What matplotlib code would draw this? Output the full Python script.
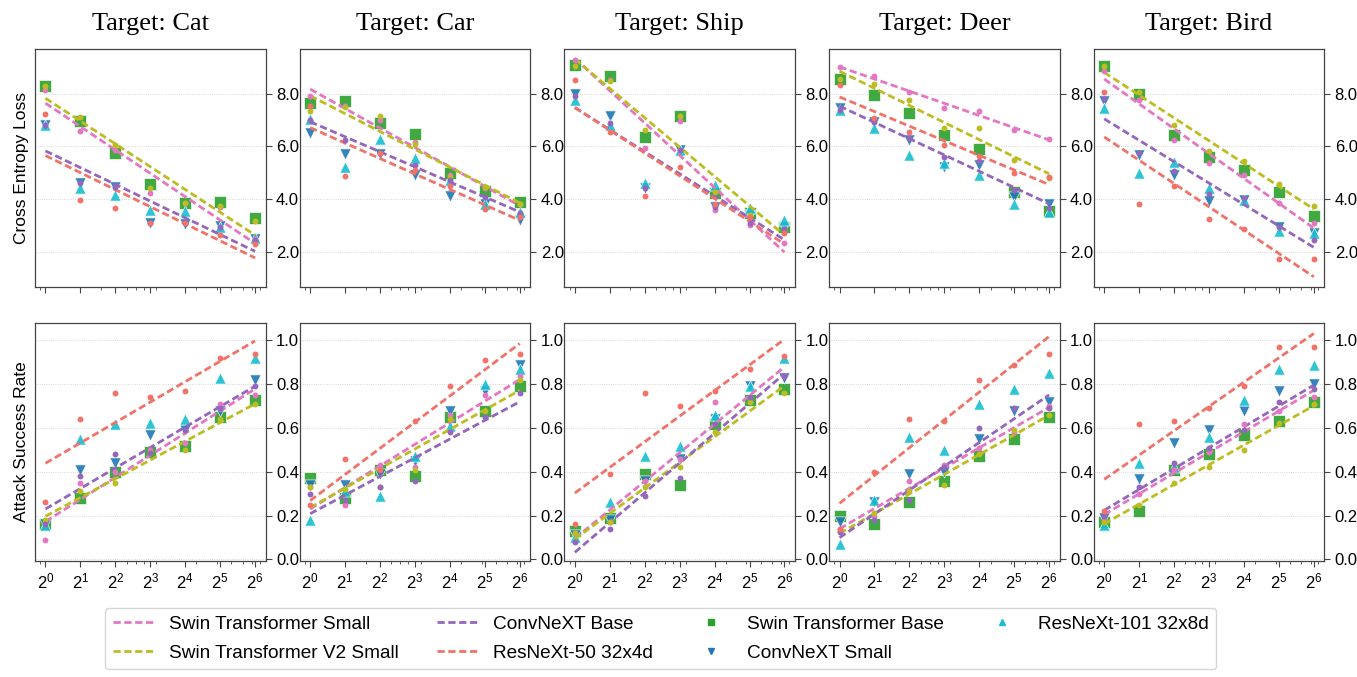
import numpy as np
import matplotlib
matplotlib.use("Agg")
import matplotlib.pyplot as plt
from matplotlib.ticker import NullFormatter, FormatStrFormatter, FixedLocator
from matplotlib.lines import Line2D

plt.rcParams['font.family'] = ['Liberation Sans', 'DejaVu Sans']
plt.rcParams['mathtext.fontset'] = 'custom'
plt.rcParams['mathtext.rm'] = 'Liberation Sans'
plt.rcParams['mathtext.it'] = 'Liberation Sans:italic'

# numero de muestras (eje x)
samples = [1, 2, 4, 8, 16, 32, 64]
targets = ['Cat', 'Car', 'Ship', 'Deer', 'Bird']

# Cross entropy loss, una fila por target
ce_swin_s = [[8.15, 6.59, 5.87, 4.22, 3.83, 3.70, 2.46],
             [7.90, 7.55, 7.00, 6.15, 4.90, 4.40, 3.80],
             [9.30, 8.53, 5.93, 6.97, 3.58, 3.00, 2.31],
             [9.00, 8.66, 8.06, 7.47, 7.35, 6.63, 6.27],
             [8.85, 7.75, 6.25, 5.38, 4.91, 3.86, 3.07]]
ce_swinv2_s = [[8.28, 7.10, 6.06, 4.40, 3.83, 3.73, 3.18],
               [7.36, 7.49, 7.14, 6.08, 4.85, 4.47, 3.80],
               [9.04, 8.50, 6.63, 7.14, 4.28, 3.39, 2.81],
               [8.56, 8.38, 7.75, 6.69, 6.69, 5.48, 4.78],
               [9.04, 8.05, 6.82, 5.83, 5.46, 4.56, 3.73]]
ce_convnext_b = [[6.80, 4.60, 4.47, 3.09, 3.09, 2.94, 2.43],
                 [7.00, 6.25, 5.74, 5.29, 4.72, 4.08, 3.45],
                 [7.90, 6.90, 4.40, 5.85, 3.70, 3.10, 2.85],
                 [7.40, 6.94, 6.31, 5.61, 5.46, 4.34, 3.64],
                 [7.81, 5.74, 5.08, 4.19, 4.02, 2.94, 2.43]]
ce_resnext50 = [[7.24, 3.97, 3.65, 3.08, 3.08, 2.62, 2.28],
                [7.52, 4.87, 5.75, 5.10, 4.50, 3.60, 3.30],
                [8.53, 6.53, 4.11, 5.20, 3.79, 3.32, 2.69],
                [8.34, 7.07, 6.54, 6.06, 5.65, 4.97, 4.85],
                [8.06, 3.81, 4.50, 3.22, 2.84, 1.73, 1.73]]
ce_swin_b = [[8.30, 6.95, 5.74, 4.57, 3.86, 3.88, 3.26],
             [7.64, 7.71, 6.88, 6.46, 4.97, 4.30, 3.87],
             [9.10, 8.66, 6.37, 7.14, 4.21, 3.45, 2.94],
             [8.56, 7.96, 7.26, 6.44, 5.90, 4.28, 3.55],
             [9.07, 8.00, 6.44, 5.61, 5.10, 4.28, 3.35]]
ce_convnext_s = [[6.80, 4.62, 4.47, 3.07, 3.03, 2.97, 2.47],
                 [6.50, 5.70, 5.70, 4.91, 4.11, 3.80, 3.20],
                 [7.99, 7.15, 4.40, 5.86, 3.70, 3.39, 2.94],
                 [7.45, 6.91, 6.25, 5.23, 5.29, 4.08, 3.81],
                 [7.71, 5.67, 4.91, 3.93, 3.96, 2.94, 2.69]]
ce_resnext101 = [[6.80, 4.43, 4.14, 3.58, 3.53, 2.94, 2.50],
                 [7.05, 5.20, 6.28, 5.55, 4.72, 3.80, 3.49],
                 [7.77, 6.80, 4.62, 5.86, 4.53, 3.64, 3.20],
                 [7.39, 6.69, 5.67, 5.36, 4.91, 3.80, 3.51],
                 [7.45, 5.00, 5.42, 4.43, 3.96, 2.78, 2.69]]

# Attack success rate
asr_swin_s = [[0.09, 0.35, 0.40, 0.50, 0.53, 0.71, 0.75],
              [0.33, 0.25, 0.43, 0.42, 0.66, 0.75, 0.84],
              [0.12, 0.17, 0.36, 0.46, 0.72, 0.74, 0.84],
              [0.14, 0.20, 0.36, 0.43, 0.51, 0.58, 0.70],
              [0.18, 0.30, 0.41, 0.49, 0.62, 0.68, 0.74]]
asr_swinv2_s = [[0.18, 0.31, 0.35, 0.485, 0.50, 0.64, 0.71],
                [0.33, 0.32, 0.33, 0.41, 0.64, 0.68, 0.82],
                [0.12, 0.17, 0.33, 0.42, 0.58, 0.72, 0.76],
                [0.13, 0.21, 0.31, 0.34, 0.48, 0.59, 0.66],
                [0.17, 0.25, 0.35, 0.42, 0.50, 0.625, 0.71]]
asr_convnext_b = [[0.16, 0.38, 0.48, 0.485, 0.59, 0.69, 0.79],
                  [0.30, 0.27, 0.33, 0.36, 0.58, 0.65, 0.76],
                  [0.08, 0.14, 0.29, 0.37, 0.62, 0.74, 0.84],
                  [0.125, 0.18, 0.27, 0.42, 0.60, 0.69, 0.69],
                  [0.20, 0.33, 0.44, 0.51, 0.59, 0.72, 0.78]]
asr_resnext50 = [[0.26, 0.64, 0.76, 0.74, 0.77, 0.92, 0.94],
                 [0.25, 0.46, 0.41, 0.63, 0.79, 0.91, 0.94],
                 [0.16, 0.39, 0.76, 0.70, 0.77, 0.87, 0.93],
                 [0.14, 0.40, 0.64, 0.63, 0.82, 0.89, 0.94],
                 [0.22, 0.62, 0.63, 0.69, 0.79, 0.97, 0.97]]
asr_swin_b = [[0.16, 0.28, 0.40, 0.49, 0.52, 0.65, 0.73],
              [0.37, 0.28, 0.41, 0.38, 0.65, 0.68, 0.79],
              [0.13, 0.19, 0.39, 0.34, 0.62, 0.73, 0.78],
              [0.20, 0.16, 0.26, 0.36, 0.47, 0.55, 0.65],
              [0.17, 0.22, 0.41, 0.48, 0.57, 0.63, 0.72]]
asr_convnext_s = [[0.16, 0.41, 0.44, 0.57, 0.59, 0.68, 0.82],
                  [0.34, 0.34, 0.39, 0.45, 0.68, 0.77, 0.89],
                  [0.11, 0.18, 0.36, 0.46, 0.64, 0.79, 0.83],
                  [0.17, 0.26, 0.39, 0.40, 0.55, 0.68, 0.72],
                  [0.19, 0.365, 0.53, 0.59, 0.68, 0.77, 0.80]]
asr_resnext101 = [[0.156, 0.55, 0.62, 0.625, 0.64, 0.83, 0.92],
                  [0.18, 0.31, 0.29, 0.47, 0.61, 0.80, 0.87],
                  [0.10, 0.26, 0.47, 0.52, 0.66, 0.79, 0.92],
                  [0.07, 0.27, 0.56, 0.50, 0.71, 0.78, 0.85],
                  [0.156, 0.44, 0.42, 0.56, 0.73, 0.87, 0.89]]

# modelos con recta de ajuste (puntos pequenos + linea discontinua)
fit_models = [("Swin Transformer Small", "#e377c2", ce_swin_s, asr_swin_s),
              ("Swin Transformer V2 Small", "#bcbd22", ce_swinv2_s, asr_swinv2_s),
              ("ConvNeXT Base", "#9467bd", ce_convnext_b, asr_convnext_b),
              ("ResNeXt-50 32x4d", "#f07269", ce_resnext50, asr_resnext50)]
# modelos solo con marcadores
marker_models = [("Swin Transformer Base", "#2ca02c", "s", ce_swin_b, asr_swin_b),
                 ("ConvNeXT Small", "#1f77b4", "v", ce_convnext_s, asr_convnext_s),
                 ("ResNeXt-101 32x8d", "#17becf", "^", ce_resnext101, asr_resnext101)]

fig, axes = plt.subplots(2, 5, figsize=(13.57, 6.77), dpi=100)
plt.subplots_adjust(left=0.0258, right=0.9759, top=0.9276, bottom=0.1713,
                    wspace=0.148, hspace=0.151)

x = np.array(samples)
lx = np.log2(x)

for col, target in enumerate(targets):
    for row in range(2):
        ax = axes[row, col]
        for name, color, marker, ce, asr in marker_models:
            vals = ce[col] if row == 0 else asr[col]
            ax.scatter(x, vals, marker=marker, s=65, color=color, alpha=0.9,
                       edgecolors='white', linewidths=0.5, zorder=2)
        for name, color, ce, asr in fit_models:
            vals = np.array(ce[col] if row == 0 else asr[col])
            m, b = np.polyfit(lx, vals, 1)
            ax.plot(x, m * lx + b, color=color, lw=2, dashes=(2.6, 1.3), zorder=3)
            ax.scatter(x, vals, s=18, color=color, zorder=4, linewidths=0)

        ax.set_xscale('log')
        ax.set_xlim(2 ** -0.3, 2 ** 6.3)
        ax.xaxis.set_major_locator(FixedLocator(samples))
        ax.xaxis.set_minor_formatter(NullFormatter())
        if row == 1:
            ax.set_xticklabels([r'$2^{%d}$' % k for k in range(7)], fontsize=14)
        else:
            ax.set_xticklabels([])
        ax.yaxis.tick_right()
        ax.yaxis.set_major_formatter(FormatStrFormatter('%.1f'))
        if row == 0:
            ax.set_ylim(0.65, 9.7)
            ax.set_yticks([2, 4, 6, 8])
            ax.set_title("Target: " + target, fontsize=19, pad=14,
                         family=['Liberation Serif', 'DejaVu Serif'])
        else:
            ax.set_ylim(-0.008, 1.08)
            ax.set_yticks([0.0, 0.2, 0.4, 0.6, 0.8, 1.0])
        ax.tick_params(axis='both', which='major', labelsize=12, length=4,
                       width=0.8, color='#444444')
        ax.tick_params(axis='x', which='minor', length=2, width=0.6, color='#444444')
        ax.grid(axis='y', color='#cccccc', lw=0.6, ls=':')
        ax.set_axisbelow(True)
        for sp in ax.spines.values():
            sp.set_color('#444444')
            sp.set_linewidth(0.9)

axes[0, 0].set_ylabel("Cross Entropy Loss", fontsize=12.5, labelpad=4)
axes[1, 0].set_ylabel("Attack Success Rate", fontsize=12.5, labelpad=4)

# leyenda
handles = []
for name, color, ce, asr in fit_models:
    handles.append(Line2D([], [], color=color, lw=2, dashes=(2.6, 1.3), label=name))
for name, color, marker, ce, asr in marker_models:
    handles.append(Line2D([], [], color=color, marker=marker, ls='none',
                          markersize=5, label=name))
fig.legend(handles=handles, loc='lower center', bbox_to_anchor=(0.487, 0.0),
           borderaxespad=0.4, ncol=4, fontsize=13.7, columnspacing=2.0,
           handlelength=2.1, handletextpad=0.85, labelspacing=0.6,
           frameon=True, edgecolor='#cccccc')

plt.savefig("out.png", dpi=100)
